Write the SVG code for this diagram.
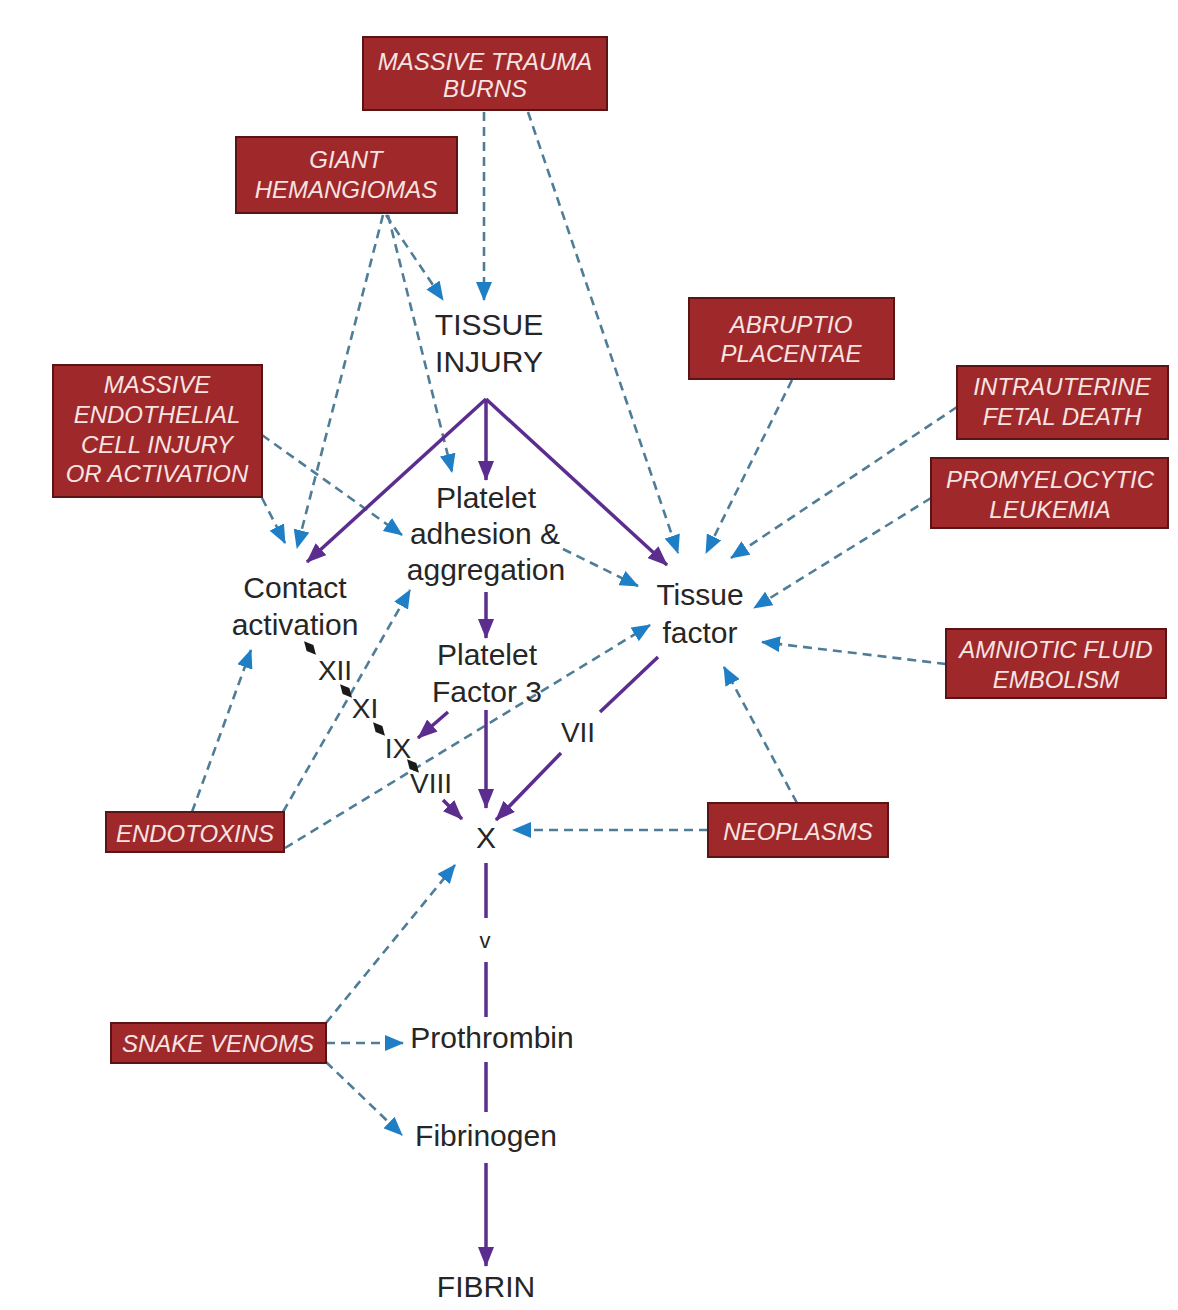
<svg xmlns="http://www.w3.org/2000/svg" width="1178" height="1310" viewBox="0 0 1178 1310">
<style>
.box{fill:#9f282b;stroke:#5a1416;stroke-width:2}
.bt{font-family:"Liberation Sans",Arial,sans-serif;font-style:italic;font-size:24px;fill:#f7e4e2;text-anchor:middle}
.t{font-family:"Liberation Sans",Arial,sans-serif;font-size:30px;fill:#262626;text-anchor:middle}
.r{font-family:"Liberation Sans",Arial,sans-serif;font-size:28px;fill:#262626;text-anchor:middle}
.d{fill:none;stroke:#4f7d97;stroke-width:2.6;stroke-dasharray:9 6;marker-end:url(#ab)}
.p{fill:none;stroke:#5b2d8e;stroke-width:3.5}
.pa{fill:none;stroke:#5b2d8e;stroke-width:3.5;marker-end:url(#ap)}
.dm{fill:#1a1a1a}
</style>
<defs>
<marker id="ab" markerUnits="userSpaceOnUse" markerWidth="19" markerHeight="16" refX="18" refY="8" orient="auto"><path d="M0,0 L19,8 L0,16 z" fill="#1f7fc6"/></marker>
<marker id="ap" markerUnits="userSpaceOnUse" markerWidth="20" markerHeight="16" refX="19" refY="8" orient="auto"><path d="M0,0 L20,8 L0,16 z" fill="#5b2d8e"/></marker>
</defs>
<rect width="1178" height="1310" fill="#ffffff"/>

<g id="connectors">
<line class="d" x1="484" y1="112" x2="484" y2="300"/>
<line class="d" x1="528" y1="112" x2="678" y2="553"/>
<line class="d" x1="386" y1="215" x2="443" y2="300"/>
<line class="d" x1="388" y1="215" x2="452" y2="472"/>
<line class="d" x1="383" y1="215" x2="297" y2="548"/>
<line class="d" x1="262" y1="498" x2="285" y2="543"/>
<line class="d" x1="262" y1="435" x2="402" y2="535"/>
<line class="d" x1="563" y1="549" x2="638" y2="586"/>
<line class="d" x1="792" y1="380" x2="706" y2="553"/>
<line class="d" x1="957" y1="407" x2="731" y2="558"/>
<line class="d" x1="931" y1="498" x2="754" y2="608"/>
<line class="d" x1="946" y1="664" x2="762" y2="642"/>
<line class="d" x1="797" y1="803" x2="724" y2="667"/>
<line class="d" x1="708" y1="830" x2="513" y2="830"/>
<line class="d" x1="192" y1="812" x2="251" y2="650"/>
<line class="d" x1="283" y1="812" x2="410" y2="590"/>
<line class="d" x1="285" y1="848" x2="650" y2="625"/>
<line class="d" x1="326" y1="1023" x2="455" y2="865"/>
<line class="d" x1="326" y1="1043" x2="403" y2="1043"/>
<line class="d" x1="326" y1="1062" x2="402" y2="1135"/>
<line class="pa" x1="486" y1="399" x2="307" y2="562"/>
<line class="pa" x1="486" y1="399" x2="486" y2="480"/>
<line class="pa" x1="486" y1="399" x2="667" y2="565"/>
<line class="pa" x1="486" y1="592" x2="486" y2="638"/>
<line class="pa" x1="486" y1="710" x2="486" y2="808"/>
<line class="pa" x1="448" y1="712" x2="418" y2="738"/>
<line class="pa" x1="443" y1="800" x2="462" y2="819"/>
<line class="p" x1="658" y1="657" x2="600" y2="712"/>
<line class="pa" x1="561" y1="753" x2="496" y2="820"/>
<line class="p" x1="486" y1="863" x2="486" y2="918"/>
<line class="p" x1="486" y1="962" x2="486" y2="1017"/>
<line class="p" x1="486" y1="1062" x2="486" y2="1112"/>
<line class="pa" x1="486" y1="1163" x2="486" y2="1266"/>
<polygon class="dm" points="-9,0 0,-4.5 9,0 0,4.5" transform="translate(310,648) rotate(48.6)"/>
<polygon class="dm" points="-9,0 0,-4.5 9,0 0,4.5" transform="translate(346,691) rotate(48.6)"/>
<polygon class="dm" points="-9,0 0,-4.5 9,0 0,4.5" transform="translate(379,729) rotate(48.6)"/>
<polygon class="dm" points="-9,0 0,-4.5 9,0 0,4.5" transform="translate(413,766) rotate(48.6)"/>
</g>

<g id="n-trauma"><rect class="box" x="363" y="37" width="244" height="73"/><text class="bt" x="485" y="70">MASSIVE TRAUMA</text><text class="bt" x="485" y="97">BURNS</text></g>
<g id="n-giant"><rect class="box" x="236" y="137" width="221" height="76"/><text class="bt" x="346" y="168">GIANT</text><text class="bt" x="346" y="198">HEMANGIOMAS</text></g>
<g id="n-endothelial"><rect class="box" x="53" y="365" width="209" height="132"/><text class="bt" x="157" y="393">MASSIVE</text><text class="bt" x="157" y="423">ENDOTHELIAL</text><text class="bt" x="157" y="453">CELL INJURY</text><text class="bt" x="157" y="482">OR ACTIVATION</text></g>
<g id="n-abruptio"><rect class="box" x="689" y="298" width="205" height="81"/><text class="bt" x="791" y="333">ABRUPTIO</text><text class="bt" x="791" y="362">PLACENTAE</text></g>
<g id="n-intrauterine"><rect class="box" x="957" y="366" width="211" height="73"/><text class="bt" x="1062" y="395">INTRAUTERINE</text><text class="bt" x="1062" y="425">FETAL DEATH</text></g>
<g id="n-promyelocytic"><rect class="box" x="931" y="458" width="237" height="70"/><text class="bt" x="1050" y="488">PROMYELOCYTIC</text><text class="bt" x="1050" y="518">LEUKEMIA</text></g>
<g id="n-amniotic"><rect class="box" x="946" y="629" width="220" height="69"/><text class="bt" x="1056" y="658">AMNIOTIC FLUID</text><text class="bt" x="1056" y="688">EMBOLISM</text></g>
<g id="n-neoplasms"><rect class="box" x="708" y="803" width="180" height="54"/><text class="bt" x="798" y="840">NEOPLASMS</text></g>
<g id="n-endotoxins"><rect class="box" x="106" y="812" width="178" height="40"/><text class="bt" x="195" y="842">ENDOTOXINS</text></g>
<g id="n-snake"><rect class="box" x="111" y="1023" width="215" height="40"/><text class="bt" x="218" y="1052">SNAKE VENOMS</text></g>

<g id="n-tissue-injury"><text class="t" x="489" y="335">TISSUE</text><text class="t" x="489" y="372">INJURY</text></g>
<g id="n-platelet-adhesion"><text class="t" x="486" y="508">Platelet</text><text class="t" x="485" y="544">adhesion &amp;</text><text class="t" x="486" y="580">aggregation</text></g>
<g id="n-contact"><text class="t" x="295" y="598">Contact</text><text class="t" x="295" y="635">activation</text></g>
<g id="n-pf3"><text class="t" x="487" y="665">Platelet</text><text class="t" x="487" y="702">Factor 3</text></g>
<g id="n-tissue-factor"><text class="t" x="700" y="605">Tissue</text><text class="t" x="700" y="643">factor</text></g>
<g id="n-xii"><text class="r" x="335" y="680">XII</text></g>
<g id="n-xi"><text class="r" x="365" y="718">XI</text></g>
<g id="n-ix"><text class="r" x="398" y="758">IX</text></g>
<g id="n-viii"><text class="r" x="431" y="793">VIII</text></g>
<g id="n-vii"><text class="r" x="578" y="742">VII</text></g>
<g id="n-x"><text class="t" x="486" y="848">X</text></g>
<g id="n-v"><text class="t" x="485" y="948" style="font-size:22px">v</text></g>
<g id="n-prothrombin"><text class="t" x="492" y="1048">Prothrombin</text></g>
<g id="n-fibrinogen"><text class="t" x="486" y="1146">Fibrinogen</text></g>
<g id="n-fibrin"><text class="t" x="486" y="1297">FIBRIN</text></g>
</svg>
